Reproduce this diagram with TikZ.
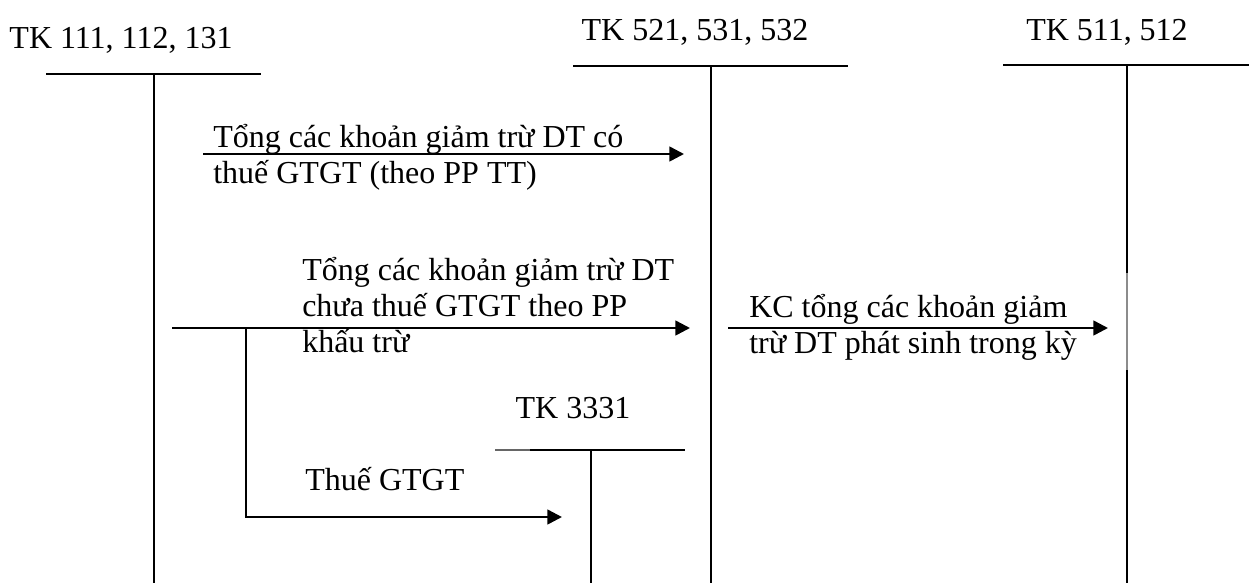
\documentclass[tikz,border=0pt]{standalone}
\usepackage{fontspec}
\setmainfont{Liberation Serif}
\usetikzlibrary{arrows.meta}

\begin{document}
\begin{tikzpicture}[
    x=0.75pt, y=-0.75pt,
    font=\fontsize{24}{27}\selectfont,
    title/.style={anchor=base, inner sep=0pt},
    tbar/.style={draw=black, line width=1.8pt},
    tleg/.style={draw=black, line width=1.5pt},
    entry/.style={-{Triangle[length=11pt,width=11pt]}, line width=1.9pt},
    memo/.style={anchor=base west, inner sep=0pt, align=left}
]
    \useasboundingbox (0,0) rectangle (1249,583);

    % account titles
    \node[title] (t111) at (121,48) {TK 111, 112, 131};
    \node[title] (t521) at (695,40) {TK 521, 531, 532};
    \node[title] (t511) at (1107,40) {TK 511, 512};
    \node[title] (t3331) at (573,418) {TK 3331};

    % T-account bars and legs
    \draw[tbar] (46,74) -- (261,74);
    \draw[tleg] (154,74) -- (154,583);
    \draw[tbar] (573,66) -- (848,66);
    \draw[tleg] (711,66) -- (711,583);
    \draw[tbar] (1003,65) -- (1249,65);
    \draw[tleg] (1127,65) -- (1127,273);
    \draw[draw=black!45, line width=0.8pt] (1127,273) -- (1127,370);
    \draw[tleg] (1127,370) -- (1127,583);
    \draw[draw=black!60, line width=0.9pt] (495,450) -- (530,450);
    \draw[tbar] (530,450) -- (685,450);
    \draw[tleg] (591,450) -- (591,583);

    % entry texts (base = last line)
    \node[memo] (m1) at (213,183) {Tổng các khoản giảm trừ DT có\\thuế GTGT (theo PP TT)};
    \node[memo] (m2) at (302,352) {Tổng các khoản giảm trừ DT\\chưa thuế GTGT theo PP\\khấu trừ};
    \node[memo] (m3) at (749,353) {KC tổng các khoản giảm\\trừ DT phát sinh trong kỳ};
    \node[memo] (m4) at (305,490) {Thuế GTGT};

    % entries
    \coordinate (s1) at (203,154);
    \coordinate (e1) at (684,154);
    \coordinate (s2) at (172,328);
    \coordinate (e2) at (690,328);
    \coordinate (s3) at (728,328);
    \coordinate (e3) at (1108,328);
    \coordinate (b0) at (246,328);
    \coordinate (b1) at (246,517);
    \coordinate (e4) at (562,517);
    \draw[entry] (s1) -- (e1);
    \draw[entry] (s2) -- (e2);
    \draw[entry] (s3) -- (e3);
    \draw[entry] (b0) -- (b1) -- (e4);
\end{tikzpicture}
\end{document}
